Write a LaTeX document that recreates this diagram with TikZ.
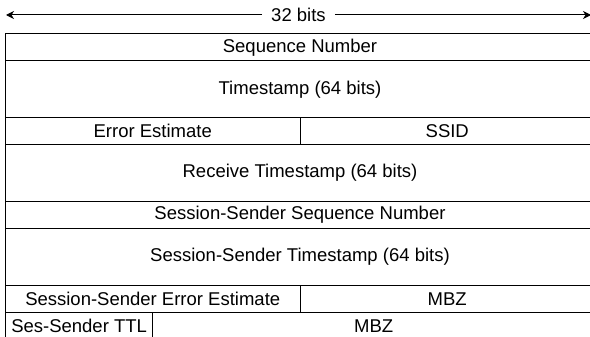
\documentclass[tikz,border=0pt]{standalone}
\usepackage{fontspec}
\setmainfont{Liberation Sans}
\usetikzlibrary{arrows.meta}
\begin{document}
\begin{tikzpicture}[x=1pt,y=-1pt,
  cell/.style={draw, line width=1pt, inner sep=0pt, anchor=north west,
    font=\fontsize{18.5}{20}\selectfont},
  full/.style={cell, minimum width=589pt},
  half/.style={cell, minimum width=294.5pt},
  quarter/.style={cell, minimum width=147.25pt},
  threeq/.style={cell, minimum width=441.75pt},
  single/.style={minimum height=27.5pt},
  double/.style={minimum height=56.5pt},
  span/.style={-{Stealth[length=8pt,width=8pt,inset=2.5pt]}, line width=1pt}]
\useasboundingbox (0,0) rectangle (590,337);
% width indicator
\coordinate (la) at (6,15);
\coordinate (ra) at (591,15);
\node[font=\fontsize{18.5}{20}\selectfont, inner xsep=9pt, inner ysep=2pt] (bits) at (298.5,15) {32 bits};
\draw[span] (bits) -- (la);
\draw[span] (bits) -- (ra);
% packet fields
\node[full, single] (seq) at (5,33) {Sequence Number};
\node[full, double] (ts) at (5,60.5) {Timestamp (64 bits)};
\node[half, single] (err) at (5,117) {Error Estimate};
\node[half, single] (ssid) at (299.5,117) {SSID};
\node[full, double] (rts) at (5,144) {Receive Timestamp (64 bits)};
\node[full, single] (sseq) at (5,200.5) {Session-Sender Sequence Number};
\node[full, double] (sts) at (5,228) {Session-Sender Timestamp (64 bits)};
\node[half, single] (serr) at (5,284.5) {Session-Sender Error Estimate};
\node[half, single] (mbz1) at (299.5,284.5) {MBZ};
\node[quarter, single] (ttl) at (5,311.5) {Ses-Sender TTL};
\node[threeq, single] (mbz2) at (152.25,311.5) {MBZ};
\end{tikzpicture}
\end{document}
